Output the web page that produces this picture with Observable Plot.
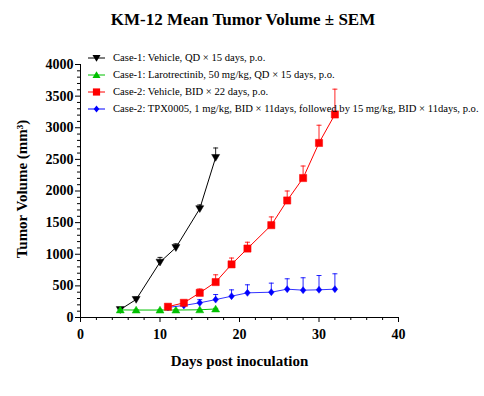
<!DOCTYPE html>
<html>
<head>
<meta charset="utf-8">
<script src="https://cdn.jsdelivr.net/npm/d3@7"></script>
<script src="https://cdn.jsdelivr.net/npm/@observablehq/plot@0.6"></script>
<style>
  body { margin: 0; background: #fff; }
  #wrap { position: relative; width: 484px; height: 396px; font-family: "Liberation Serif", "Times New Roman", serif; }
  #title { position: absolute; left: 0; top: 10px; width: 486px; text-align: center; font-size: 17px; font-weight: bold; line-height: 20px; }
  #legend { position: absolute; left: 88px; top: 49px; width: 396px; font-size: 10.6px; line-height: 17px; }
  .row { display: flex; align-items: center; height: 17px; white-space: nowrap; }
  .row svg { margin-right: 8px; flex: none; }
  #chart svg text { font-family: "Liberation Serif", "Times New Roman", serif; }
</style>
</head>
<body>
<div id="wrap">
  <div id="chart"></div>
  <div id="title">KM-12 Mean Tumor Volume ± SEM</div>
  <div id="legend"></div>
</div>
<script>
// ---- data ----
const seriesNames = [
  "Case-1: Vehicle, QD × 15 days, p.o.",
  "Case-1: Larotrectinib, 50 mg/kg, QD × 15 days, p.o.",
  "Case-2: Vehicle, BID × 22 days, p.o.",
  "Case-2: TPX0005, 1 mg/kg, BID × 11days, followed by 15 mg/kg, BID × 11days, p.o."
];
const seriesColors = ["#000000", "#00c000", "#ff0000", "#0000ff"];

const case1Days = [5, 7, 10, 12, 15, 17];
const case1Vehicle = [125, 285, 875, 1105, 1720, 2530];
const case1VehicleSem = [20, 35, 75, 60, 60, 150];
const case1Laro = [120, 118, 118, 118, 122, 135];
const case1LaroSem = [5, 5, 5, 5, 5, 10];

const case2Days = [11, 13, 15, 17, 19, 21, 24, 26, 28, 30, 32];
const case2Vehicle = [170, 232, 390, 560, 840, 1090, 1460, 1850, 2205, 2760, 3210];
const case2VehicleSem = [20, 30, 60, 115, 100, 100, 130, 150, 190, 280, 400];
const case2Tpx = [160, 190, 232, 283, 337, 390, 400, 448, 432, 438, 448];
const case2TpxSem = [15, 30, 50, 80, 100, 127, 143, 164, 196, 226, 243];

const xMajorTicks = [0, 10, 20, 30, 40];
const yMajorTicks = [0, 500, 1000, 1500, 2000, 2500, 3000, 3500, 4000];

// ---- build table ----
function build(days, vals, sems, s) {
  return days.map((d, i) => ({series: s, day: d, mean: vals[i], top: vals[i] + sems[i]}));
}
const groups = [
  build(case1Days, case1Vehicle, case1VehicleSem, 0),
  build(case1Days, case1Laro, case1LaroSem, 1),
  build(case2Days, case2Tpx, case2TpxSem, 3),
  build(case2Days, case2Vehicle, case2VehicleSem, 2)
];

// custom symbols
const triDown = {draw(ctx, size) { const r = Math.sqrt(size / Math.PI); ctx.moveTo(-r, -r * 0.75); ctx.lineTo(r, -r * 0.75); ctx.lineTo(0, r * 0.95); ctx.closePath(); }};
const triUp = {draw(ctx, size) { const r = Math.sqrt(size / Math.PI); ctx.moveTo(-r, r * 0.75); ctx.lineTo(r, r * 0.75); ctx.lineTo(0, -r * 0.95); ctx.closePath(); }};
const square = {draw(ctx, size) { const r = Math.sqrt(size / Math.PI); ctx.rect(-r, -r, 2 * r, 2 * r); }};
const diamond = {draw(ctx, size) { const r = Math.sqrt(size / Math.PI); ctx.moveTo(0, -r); ctx.lineTo(r * 0.8, 0); ctx.lineTo(0, r); ctx.lineTo(-r * 0.8, 0); ctx.closePath(); }};
const cap = {draw(ctx, size) { ctx.moveTo(-2.5, 0); ctx.lineTo(2.5, 0); }};
const symbols = [triDown, triUp, square, diamond];
const symR = [4, 4, 3.6, 3.5];

const marks = [];
// axis lines
marks.push(Plot.ruleX([0], {stroke: "#000", strokeWidth: 1}));
marks.push(Plot.ruleY([0], {stroke: "#000", strokeWidth: 1}));
// axes
marks.push(Plot.axisY({ticks: yMajorTicks, tickFormat: "d", tickSize: 5, tickPadding: 2, fontSize: 14, fontWeight: "bold", label: null}));
marks.push(Plot.axisY({ticks: d3.range(0, 4001, 100).filter(v => v % 500 !== 0), tickSize: 3, text: null, label: null}));
marks.push(Plot.axisX({ticks: xMajorTicks, tickFormat: "d", tickSize: 5, tickPadding: 7, fontSize: 14, fontWeight: "bold", label: null}));
marks.push(Plot.axisX({ticks: d3.range(0, 41, 2).filter(v => v % 10 !== 0), tickSize: 3, text: null, label: null}));
// axis titles
marks.push(Plot.text(["Days post inoculation"], {frameAnchor: "bottom", dy: 48, fontSize: 15, fontWeight: "bold"}));
marks.push(Plot.text(["Tumor Volume (mm³)"], {frameAnchor: "left", textAnchor: "middle", dx: -58, dy: -2, rotate: -90, fontSize: 15, fontWeight: "bold"}));

for (const g of groups) {
  const s = g[0].series;
  const c = seriesColors[s];
  marks.push(Plot.ruleX(g, {x: "day", y1: "mean", y2: "top", stroke: c, strokeWidth: 1, strokeOpacity: 0.85}));
  marks.push(Plot.dot(g, {x: "day", y: "top", symbol: cap, r: 3, stroke: c, fill: "none", strokeWidth: 1, strokeOpacity: 0.85}));
  marks.push(Plot.line(g, {x: "day", y: "mean", stroke: c, strokeWidth: 1, strokeOpacity: s === 3 ? 0.8 : 1}));
  marks.push(Plot.dot(g, {x: "day", y: "mean", symbol: symbols[s], r: symR[s], fill: c, stroke: c, strokeWidth: 0.5}));
}

const chart = Plot.plot({
  width: 484,
  height: 396,
  marginLeft: 80,
  marginRight: 86,
  marginTop: 64,
  marginBottom: 79,
  style: {fontFamily: "Liberation Serif, Times New Roman, serif", background: "white", color: "#000"},
  x: {domain: [0, 40]},
  y: {domain: [0, 4000]},
  marks
});
document.getElementById("chart").appendChild(chart);

// legend
const legend = document.getElementById("legend");
const pathFor = [
  "M-4,-3L4,-3L0,3.8Z",
  "M-4,3L4,3L0,-3.8Z",
  "M-3.6,-3.6h7.2v7.2h-7.2Z",
  "M0,-3.5L2.8,0L0,3.5L-2.8,0Z"
];
seriesNames.forEach((name, i) => {
  const row = document.createElement("div");
  row.className = "row";
  row.innerHTML = `<svg width="17" height="10" viewBox="0 0 17 10"><line x1="0" x2="17" y1="5" y2="5" stroke="${seriesColors[i]}" stroke-width="1"/><path transform="translate(8.5,5)" d="${pathFor[i]}" fill="${seriesColors[i]}"/></svg><span>${name}</span>`;
  legend.appendChild(row);
});
</script>
</body>
</html>
